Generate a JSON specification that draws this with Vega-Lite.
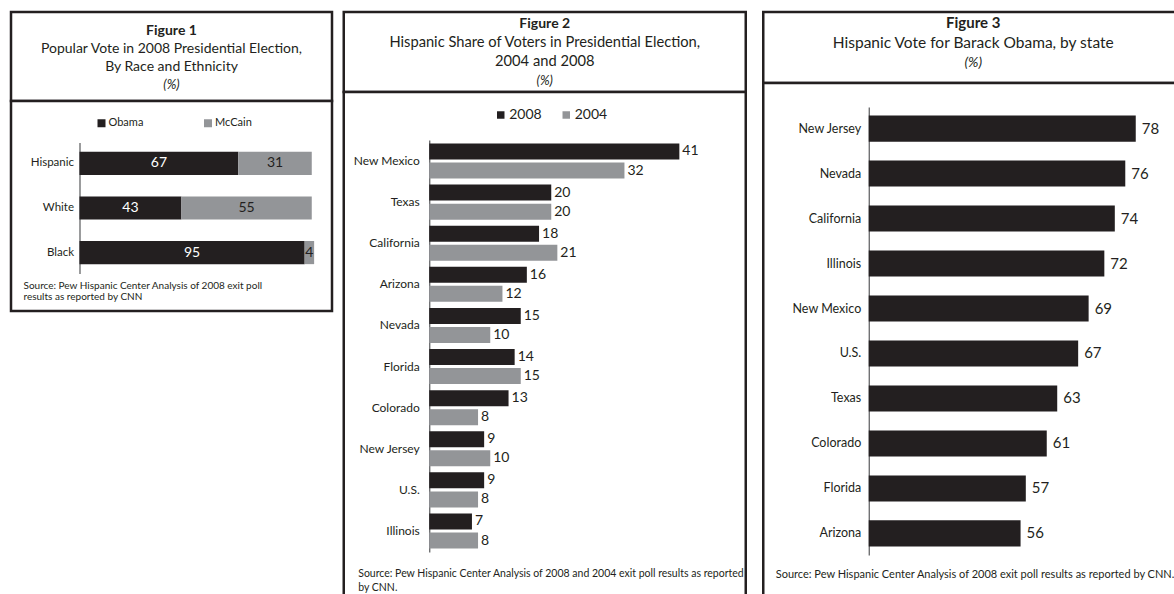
{
  "$schema": "https://vega.github.io/schema/vega-lite/v6.json",
  "padding": {"left": 9, "top": 10, "right": 0, "bottom": 0},
  "spacing": 7.75,
  "background": "white",
  "resolve": {"scale": {"color": "independent"}, "legend": {"color": "independent"}},
  "config": {
    "font": "Lato",
    "view": {"stroke": "#231f20", "strokeWidth": 2.5, "fill": "white"},
    "text": {"color": "#231f20", "font": "Lato"},
    "axis": {"domainColor": "#58595b", "domainWidth": 1.2, "ticks": false, "grid": false, "labelColor": "#231f20", "labelFont": "Lato"},
    "title": {"color": "#231f20", "font": "Lato", "fontWeight": "normal"},
    "legend": {"labelFont": "Lato", "labelColor": "#231f20"}
  },
  "datasets": {
    "t1": [
      {"line": 1, "text": "Figure 1", "kind": "head"},
      {"line": 2, "text": "Popular Vote in 2008 Presidential Election,", "kind": "body"},
      {"line": 3, "text": "By Race and Ethnicity", "kind": "body"},
      {"line": 4, "text": "(%)", "kind": "note"}
    ],
    "t2": [
      {"line": 1, "text": "Figure 2", "kind": "head"},
      {"line": 2, "text": "Hispanic Share of Voters in Presidential Election,", "kind": "body"},
      {"line": 3, "text": "2004 and 2008", "kind": "body"},
      {"line": 4, "text": "(%)", "kind": "note"}
    ],
    "t3": [
      {"line": 1, "text": "Figure 3", "kind": "head"},
      {"line": 2, "text": "Hispanic Vote for Barack Obama, by state", "kind": "body"},
      {"line": 3, "text": "(%)", "kind": "note"}
    ],
    "fig1": [
      {"group": "Hispanic", "candidate": "Obama", "value": 67},
      {"group": "Hispanic", "candidate": "McCain", "value": 31},
      {"group": "White", "candidate": "Obama", "value": 43},
      {"group": "White", "candidate": "McCain", "value": 55},
      {"group": "Black", "candidate": "Obama", "value": 95},
      {"group": "Black", "candidate": "McCain", "value": 4}
    ],
    "fig2": [
      {"state": "New Mexico", "year": "2008", "value": 41},
      {"state": "New Mexico", "year": "2004", "value": 32},
      {"state": "Texas", "year": "2008", "value": 20},
      {"state": "Texas", "year": "2004", "value": 20},
      {"state": "California", "year": "2008", "value": 18},
      {"state": "California", "year": "2004", "value": 21},
      {"state": "Arizona", "year": "2008", "value": 16},
      {"state": "Arizona", "year": "2004", "value": 12},
      {"state": "Nevada", "year": "2008", "value": 15},
      {"state": "Nevada", "year": "2004", "value": 10},
      {"state": "Florida", "year": "2008", "value": 14},
      {"state": "Florida", "year": "2004", "value": 15},
      {"state": "Colorado", "year": "2008", "value": 13},
      {"state": "Colorado", "year": "2004", "value": 8},
      {"state": "New Jersey", "year": "2008", "value": 9},
      {"state": "New Jersey", "year": "2004", "value": 10},
      {"state": "U.S.", "year": "2008", "value": 9},
      {"state": "U.S.", "year": "2004", "value": 8},
      {"state": "Illinois", "year": "2008", "value": 7},
      {"state": "Illinois", "year": "2004", "value": 8}
    ],
    "fig3": [
      {"state": "New Jersey", "value": 78},
      {"state": "Nevada", "value": 76},
      {"state": "California", "value": 74},
      {"state": "Illinois", "value": 72},
      {"state": "New Mexico", "value": 69},
      {"state": "U.S.", "value": 67},
      {"state": "Texas", "value": 63},
      {"state": "Colorado", "value": 61},
      {"state": "Florida", "value": 57},
      {"state": "Arizona", "value": 56}
    ]
  },
  "hconcat": [
    {
      "vconcat": [
        {
          "width": 321, "height": 89,
          "data": {"name": "t1"},
          "encoding": {"y": {"field": "line", "type": "ordinal", "scale": {"type": "point", "range": [19, 73], "padding": 0}, "axis": null}, "text": {"field": "text"}},
          "layer": [
            {"transform": [{"filter": "datum.kind === 'head'"}], "mark": {"type": "text", "fontSize": 14, "fontWeight": "bold"}},
            {"transform": [{"filter": "datum.kind === 'body'"}], "mark": {"type": "text", "fontSize": 14}},
            {"transform": [{"filter": "datum.kind === 'note'"}], "mark": {"type": "text", "fontSize": 13, "fontStyle": "italic"}}
          ]
        },
        {
          "width": 321, "height": 210,
          "data": {"name": "fig1"},
          "title": {"text": ["Source:  Pew Hispanic Center Analysis of 2008 exit poll", "results as reported by CNN"], "orient": "bottom", "anchor": "start", "frame": "group", "offset": -30, "dx": 12.5, "fontSize": 10, "lineHeight": 10.5},
          "encoding": {
            "y": {"field": "group", "type": "nominal", "sort": null, "scale": {"range": [41.5, 172.5], "paddingInner": 0.48, "paddingOuter": 0.21}, "axis": {"offset": -68.5, "title": null, "labelPadding": 6, "labelFontSize": 11.5}},
            "x": {"field": "value", "type": "quantitative", "stack": "zero", "scale": {"domain": [0, 100], "range": [68.5, 305.5]}, "axis": null},
            "order": {"field": "candidate", "sort": "descending"}
          },
          "layer": [
            {
              "mark": {"type": "bar"},
              "encoding": {"color": {"field": "candidate", "type": "nominal", "scale": {"domain": ["Obama", "McCain"], "range": ["#231f20", "#939598"]},
                "legend": {"orient": "none", "legendX": 85, "legendY": 16.5, "direction": "horizontal", "title": null, "symbolType": "square", "symbolSize": 64, "symbolStrokeWidth": 0, "labelFontSize": 11, "labelOffset": 1.5, "columnPadding": 58.5, "padding": 0}}}
            },
            {
              "mark": {"type": "text", "fontSize": 14, "baseline": "middle"},
              "encoding": {
                "x": {"field": "value", "type": "quantitative", "stack": "zero", "bandPosition": 0.5},
                "detail": {"field": "candidate"},
                "text": {"field": "value"},
                "color": {"condition": {"test": "datum.candidate === 'Obama'", "value": "white"}, "value": "#231f20"}
              }
            }
          ]
        }
      ],
      "spacing": 0,
      "bounds": "flush",
      "resolve": {"scale": {"color": "independent"}, "legend": {"color": "independent"}}
    },
    {
      "hconcat": [
        {
          "vconcat": [
            {
              "width": 402, "height": 80,
              "data": {"name": "t2"},
              "encoding": {"y": {"field": "line", "type": "ordinal", "scale": {"type": "point", "range": [12, 69], "padding": 0}, "axis": null}, "text": {"field": "text"}},
              "layer": [
                {"transform": [{"filter": "datum.kind === 'head'"}], "mark": {"type": "text", "fontSize": 14, "fontWeight": "bold"}},
                {"transform": [{"filter": "datum.kind === 'body'"}], "mark": {"type": "text", "fontSize": 14.7}},
                {"transform": [{"filter": "datum.kind === 'note'"}], "mark": {"type": "text", "fontSize": 13, "fontStyle": "italic"}}
              ]
            },
            {
              "width": 402, "height": 509,
              "data": {"name": "fig2"},
              "title": {"text": ["Source: Pew Hispanic Center Analysis of 2008 and 2004 exit poll results as reported", "by CNN."], "orient": "bottom", "anchor": "start", "frame": "group", "offset": -32.5, "dx": 14.5, "fontSize": 10.5, "lineHeight": 14},
              "encoding": {
                "y": {"field": "state", "type": "nominal", "sort": null, "scale": {"range": [48, 460], "paddingInner": 0.148, "paddingOuter": 0.085}, "axis": {"offset": -85.5, "title": null, "labelPadding": 10, "labelFontSize": 12}},
                "yOffset": {"field": "year", "type": "nominal", "sort": ["2008", "2004"], "scale": {"paddingInner": 0.16}},
                "x": {"field": "value", "type": "quantitative", "scale": {"domain": [0, 50], "range": [85.5, 390.5]}, "axis": null}
              },
              "layer": [
                {
                  "mark": {"type": "bar"},
                  "encoding": {"color": {"field": "year", "type": "nominal", "scale": {"domain": ["2008", "2004"], "range": ["#231f20", "#939598"]},
                    "legend": {"orient": "none", "legendX": 150, "legendY": 16, "direction": "horizontal", "title": null, "symbolType": "square", "symbolSize": 56, "symbolStrokeWidth": 0, "labelFontSize": 14, "labelOffset": 1.5, "columnPadding": 17.5, "padding": 0}}}
                },
                {
                  "mark": {"type": "text", "fontSize": 14, "align": "left", "dx": 3, "baseline": "middle"},
                  "encoding": {"text": {"field": "value"}}
                }
              ]
            }
          ],
          "spacing": 0,
          "bounds": "flush",
          "resolve": {"scale": {"color": "independent"}, "legend": {"color": "independent"}}
        },
        {
          "vconcat": [
            {
              "width": 420, "height": 71,
              "data": {"name": "t3"},
              "encoding": {"y": {"field": "line", "type": "ordinal", "scale": {"type": "point", "range": [11, 51], "padding": 0}, "axis": null}, "text": {"field": "text"}},
              "layer": [
                {"transform": [{"filter": "datum.kind === 'head'"}], "mark": {"type": "text", "fontSize": 15, "fontWeight": "bold"}},
                {"transform": [{"filter": "datum.kind === 'body'"}], "mark": {"type": "text", "fontSize": 15.5}},
                {"transform": [{"filter": "datum.kind === 'note'"}], "mark": {"type": "text", "fontSize": 14, "fontStyle": "italic"}}
              ]
            },
            {
              "width": 420, "height": 518,
              "data": {"name": "fig3"},
              "title": {"text": "Source: Pew Hispanic Center Analysis of 2008 exit poll results as reported by CNN.", "orient": "bottom", "anchor": "start", "frame": "group", "offset": -32.5, "dx": 12.5, "fontSize": 11},
              "encoding": {
                "y": {"field": "state", "type": "nominal", "sort": null, "scale": {"range": [24, 472], "paddingInner": 0.42, "paddingOuter": 0.19}, "axis": {"offset": -105.5, "title": null, "labelPadding": 8, "labelFontSize": 12.5}},
                "x": {"field": "value", "type": "quantitative", "scale": {"domain": [27, 78], "range": [105.5, 372.5], "zero": false}, "axis": null}
              },
              "layer": [
                {
                  "mark": {"type": "bar", "color": "#231f20"},
                  "encoding": {"x2": {"datum": 27}}
                },
                {
                  "mark": {"type": "text", "fontSize": 15, "align": "left", "dx": 6, "baseline": "middle"},
                  "encoding": {"text": {"field": "value"}}
                }
              ]
            }
          ],
          "spacing": 0,
          "bounds": "flush",
          "resolve": {"scale": {"color": "independent"}, "legend": {"color": "independent"}}
        }
      ],
      "spacing": 13.5,
      "resolve": {"scale": {"color": "independent"}, "legend": {"color": "independent"}}
    }
  ]
}
